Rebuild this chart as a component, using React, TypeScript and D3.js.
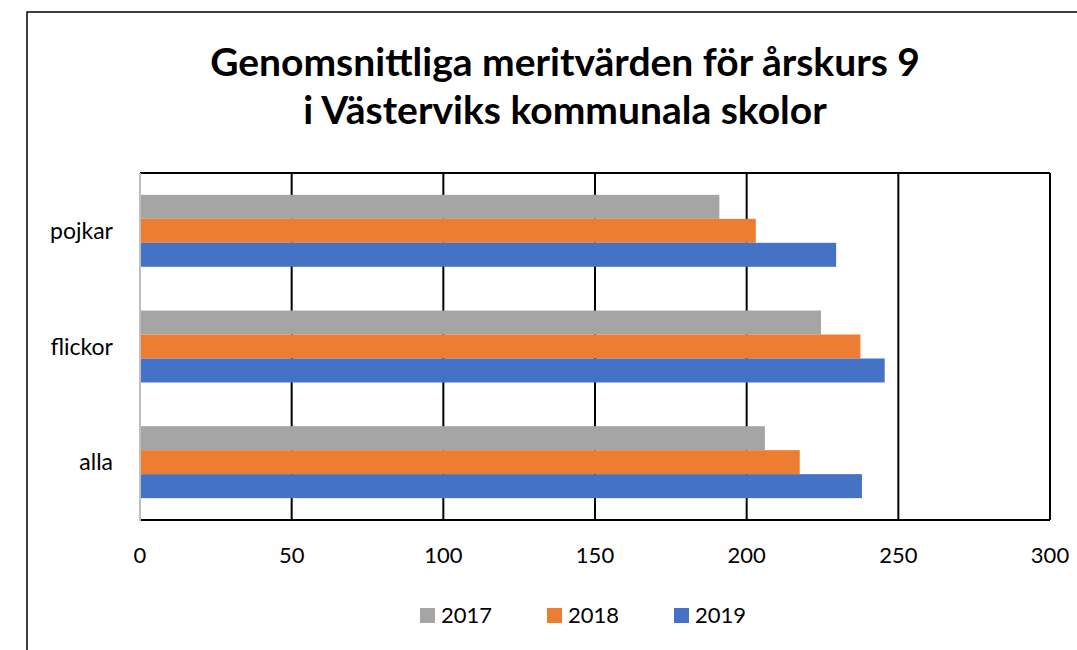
import React from "react";
import * as d3 from "d3";

const categories = ["pojkar", "flickor", "alla"];
const seriesNames = ["2017", "2018", "2019"];
const values2017 = [191, 224.5, 206];
const values2018 = [203, 237.5, 217.5];
const values2019 = [229.5, 245.5, 238];
const xTicks = [0, 50, 100, 150, 200, 250, 300];
const colors = ["#A5A5A5", "#ED7D31", "#4472C4"];
const titleLines = ["Genomsnittliga meritvärden för årskurs 9", "i Västerviks kommunala skolor"];

const W = 1077;
const H = 650;
const plot = { left: 140, right: 1050, top: 173, bottom: 520 };
const FONT = "Lato, 'Open Sans', sans-serif";

export default function App() {
  const series = [values2017, values2018, values2019];
  const x = d3.scaleLinear().domain([0, 300]).range([plot.left, plot.right]);
  const y = d3
    .scaleBand<string>()
    .domain(categories)
    .range([plot.top, plot.bottom])
    .paddingInner(0.378)
    .paddingOuter(0.189);
  const sub = d3
    .scaleBand<string>()
    .domain(seriesNames)
    .range([0, y.bandwidth()]);

  const legendX = [420, 547, 674];

  return (
    <svg
      width={W}
      height={H}
      style={{ position: "absolute", left: 0, top: 0, background: "#fff" }}
    >
      <rect x={0} y={0} width={W} height={H} fill="#fff" />
      {/* outer frame */}
      <path d={`M27,${H} L27,12 L${W},12`} fill="none" stroke="#000" strokeWidth={1.5} />

      {/* title */}
      {titleLines.map((t, i) => (
        <text
          key={t}
          x={565}
          y={76 + i * 48}
          textAnchor="middle"
          fontFamily={FONT}
          fontWeight={700}
          fontSize={39}
          fill="#000"
        >
          {t}
        </text>
      ))}

      {/* gridlines */}
      {xTicks.slice(1).map((t) => (
        <line
          key={t}
          x1={x(t)}
          x2={x(t)}
          y1={plot.top}
          y2={plot.bottom}
          stroke="#000"
          strokeWidth={2}
        />
      ))}
      <line x1={plot.left} x2={plot.right} y1={plot.top} y2={plot.top} stroke="#000" strokeWidth={2} />

      {/* bars */}
      {categories.map((c, ci) =>
        series.map((vals, si) => (
          <rect
            key={c + si}
            x={x(0)}
            y={(y(c) as number) + (sub(seriesNames[si]) as number)}
            width={x(vals[ci]) - x(0)}
            height={sub.bandwidth()}
            fill={colors[si]}
          />
        ))
      )}

      {/* axes */}
      <line x1={plot.left} x2={plot.right} y1={plot.bottom} y2={plot.bottom} stroke="#000" strokeWidth={2} />
      <line x1={plot.left} x2={plot.left} y1={plot.top} y2={plot.bottom + 1} stroke="#BFBFBF" strokeWidth={2} />

      {/* x tick labels */}
      {xTicks.map((t) => (
        <text
          key={t}
          x={x(t)}
          y={563}
          textAnchor="middle"
          fontFamily={FONT}
          fontSize={22}
          fill="#000"
        >
          {t}
        </text>
      ))}

      {/* category labels */}
      {categories.map((c) => (
        <text
          key={c}
          x={113}
          y={(y(c) as number) + y.bandwidth() / 2}
          dy="0.35em"
          textAnchor="end"
          fontFamily={FONT}
          fontSize={23}
          fill="#000"
        >
          {c}
        </text>
      ))}

      {/* legend */}
      {seriesNames.map((s, i) => (
        <g key={s}>
          <rect x={legendX[i]} y={608} width={15} height={15} fill={colors[i]} />
          <text x={legendX[i] + 21} y={623} fontFamily={FONT} fontSize={22} fill="#000">
            {s}
          </text>
        </g>
      ))}
    </svg>
  );
}
